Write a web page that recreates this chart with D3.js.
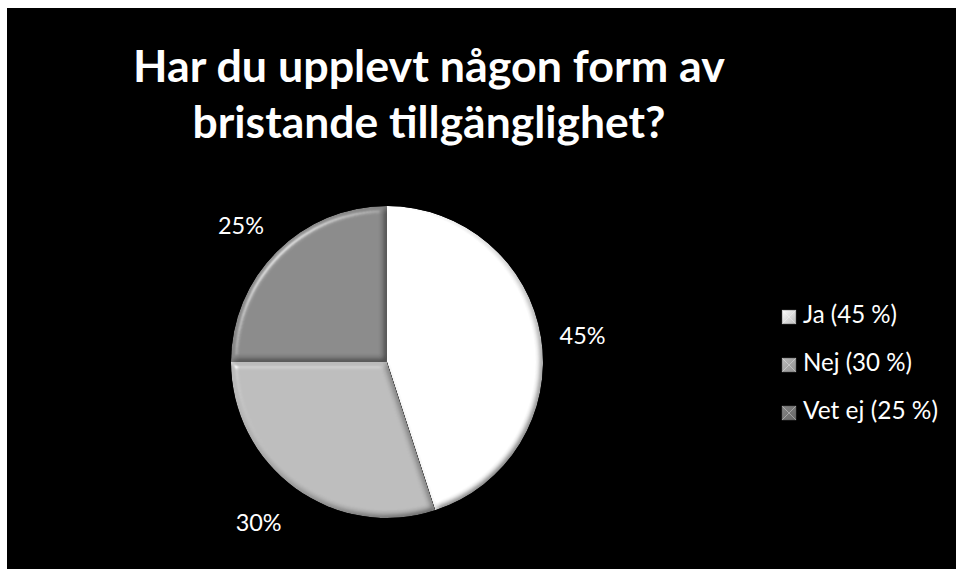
<!DOCTYPE html>
<html>
<head>
<meta charset="utf-8">
<script src="https://cdn.jsdelivr.net/npm/d3@7"></script>
<style>
  html, body { margin: 0; padding: 0; background: #fff; }
  svg { display: block; }
  text { font-family: Lato, "Open Sans", sans-serif; fill: #fff; }
</style>
</head>
<body>
<script>
// chart values
const categories = ["Ja", "Nej", "Vet ej"];
const values = [45, 30, 25];
const legendLabels = ["Ja (45 %)", "Nej (30 %)", "Vet ej (25 %)"];
const titleLines = ["Har du upplevt någon form av", "bristande tillgänglighet?"];

const w = 957, h = 569;
const cx = 387, cy = 362, r = 156;

// slice shading: [top colour, bottom colour]
const shades = [["#ffffff", "#bdbdbd"], ["#bababa", "#939393"], ["#858585", "#676767"]];

const svg = d3.select("body").append("svg")
  .attr("width", w)
  .attr("height", h);

svg.append("rect")
  .attr("x", 7).attr("y", 8)
  .attr("width", w - 8).attr("height", h - 8)
  .attr("fill", "#000");

const defs = svg.append("defs");

// soft bevel like the office "soft round" effect
const f = defs.append("filter").attr("id", "bevel")
  .attr("x", "-5%").attr("y", "-5%").attr("width", "110%").attr("height", "110%");
f.append("feGaussianBlur").attr("in", "SourceAlpha").attr("stdDeviation", 3).attr("result", "blur");
f.append("feDiffuseLighting").attr("in", "blur").attr("surfaceScale", 4)
  .attr("diffuseConstant", 1.18).attr("lighting-color", "#fff").attr("result", "diff")
  .append("feDistantLight").attr("azimuth", 225).attr("elevation", 58);
f.append("feSpecularLighting").attr("in", "blur").attr("surfaceScale", 4)
  .attr("specularConstant", 0.6).attr("specularExponent", 35).attr("lighting-color", "#fff").attr("result", "spec")
  .append("feDistantLight").attr("azimuth", 225).attr("elevation", 45);
f.append("feComposite").attr("in", "SourceGraphic").attr("in2", "diff")
  .attr("operator", "arithmetic").attr("k1", 1).attr("k2", 0).attr("k3", 0).attr("k4", 0).attr("result", "shaded");
f.append("feComposite").attr("in", "spec").attr("in2", "SourceAlpha").attr("operator", "in").attr("result", "specIn");
f.append("feComposite").attr("in", "shaded").attr("in2", "specIn")
  .attr("operator", "arithmetic").attr("k1", 0).attr("k2", 1).attr("k3", 0.7).attr("k4", 0).attr("result", "lit");
f.append("feComposite").attr("in", "lit").attr("in2", "SourceAlpha").attr("operator", "in");

shades.forEach(function(s, i) {
  const g = defs.append("linearGradient").attr("id", "grad" + i)
    .attr("gradientUnits", "userSpaceOnUse")
    .attr("x1", 0).attr("y1", cy - r).attr("x2", 0).attr("y2", cy + r);
  g.append("stop").attr("offset", i == 0 ? "25%" : "0%").attr("stop-color", s[0]);
  g.append("stop").attr("offset", "100%").attr("stop-color", s[1]);
  // legend swatch gradient
  const lg = defs.append("linearGradient").attr("id", "lgrad" + i)
    .attr("x1", 0).attr("y1", 0).attr("x2", 1).attr("y2", 1);
  lg.append("stop").attr("offset", "0%").attr("stop-color", s[0]);
  lg.append("stop").attr("offset", "100%").attr("stop-color", s[1]);
});

// size a text so it spans the width seen in the original
function fit(sel, target) {
  sel.attr("font-size", 40);
  const len = sel.node().getComputedTextLength();
  sel.attr("font-size", 40 * target / len);
}
const titleWidths = [592, 473];
const titleBase = [82, 138];
titleLines.forEach(function(t, i) {
  const el = svg.append("text")
    .attr("x", 429).attr("y", titleBase[i])
    .attr("text-anchor", "middle")
    .attr("font-weight", "bold")
    .text(t);
  fit(el, titleWidths[i]);
});

// pie
const pie = d3.pie().sort(null).value(d => d);
const arcs = pie(values);
const arc = d3.arc().innerRadius(0).outerRadius(r);
const labelArc = d3.arc().innerRadius(198).outerRadius(198);

const g = svg.append("g").attr("transform", "translate(" + cx + "," + cy + ")");

g.selectAll("path.slice")
  .data(arcs)
  .enter()
  .append("path")
  .attr("class", "slice")
  .attr("d", arc)
  .attr("fill", (d, i) => "url(#grad" + i + ")")
  .attr("transform", "translate(" + (-cx) + "," + (-cy) + ") translate(" + cx + "," + cy + ")")
  .attr("filter", "url(#bevel)");

g.selectAll("text.pct")
  .data(arcs)
  .enter()
  .append("text")
  .attr("class", "pct")
  .attr("x", d => labelArc.centroid(d)[0] - (d.index == 1 ? 12 : (d.index == 2 ? 6 : 0)))
  .attr("y", d => labelArc.centroid(d)[1] + (d.index == 0 ? 4 : (d.index == 2 ? 3 : 0)))
  .attr("text-anchor", "middle")
  .attr("dominant-baseline", "central")
  .attr("font-size", 21)
  .text(d => d.data + "%")
  .each(function() { fit(d3.select(this), 46); });

// legend
const legendWidths = [94, 109, 135];
const legend = svg.append("g");
const rows = legend.selectAll("g")
  .data(categories)
  .enter()
  .append("g")
  .attr("transform", (d, i) => "translate(782," + (310 + i * 48) + ")");

rows.append("rect")
  .attr("width", 14).attr("height", 14)
  .attr("fill", (d, i) => "url(#lgrad" + i + ")")
  .attr("stroke", "#555").attr("stroke-width", 0.5);
rows.append("path")
  .attr("d", "M0,0L7,7L14,0M0,14L7,7L14,14")
  .attr("fill", "none")
  .attr("stroke", "rgba(255,255,255,0.35)")
  .attr("stroke-width", 1);

rows.append("text")
  .attr("x", 21).attr("y", 13)
  .text((d, i) => legendLabels[i])
  .each(function(d, i) { fit(d3.select(this), legendWidths[i]); });
</script>
</body>
</html>
